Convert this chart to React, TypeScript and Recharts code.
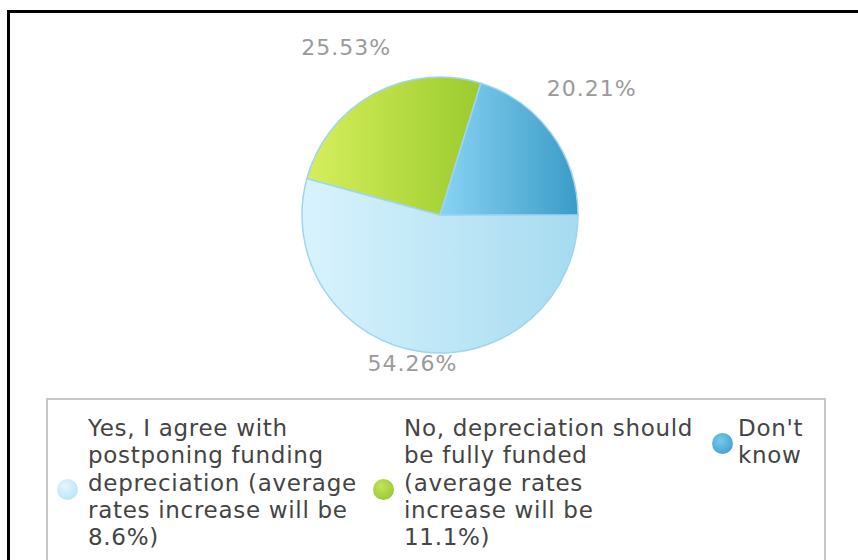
import React from "react"
import { PieChart, Pie, Cell, Legend } from "recharts"

// survey answers, in the order they appear in the legend
const categories = [
  "Yes, I agree with postponing funding depreciation (average rates increase will be 8.6%)",
  "No, depreciation should be fully funded (average rates increase will be 11.1%)",
  "Don't know",
]
const shares = [54.26, 25.53, 20.21]

// legend text broken where the original wraps it
const legendLines = [
  ["Yes, I agree with", "postponing funding", "depreciation (average", "rates increase will be", "8.6%)"],
  ["No, depreciation should", "be fully funded", "(average rates", "increase will be", "11.1%)"],
  ["Don't", "know"],
]

const gradients = [
  { id: "gYes", from: "#d8f3fd", to: "#a6dbf0" },
  { id: "gNo", from: "#d6ef5c", to: "#9bcb2e" },
  { id: "gDk", from: "#88d3f3", to: "#3b9cc8" },
]
const markerColors = [
  ["#e4f6fd", "#aedff3"],
  ["#c2e45a", "#8cc225"],
  ["#78c9ec", "#3597c6"],
]

const data = categories.map((name, i) => ({ name, value: shares[i] }))

const RAD = Math.PI / 180
const LINE_H = 27.3
const TEXT_TOP = 15
const columns = [
  { marker: 9, text: 40 },
  { marker: 325, text: 356 },
  { marker: 664, text: 690 },
]

function renderLabel(props: any) {
  const { cx, cy, midAngle, outerRadius, value } = props
  const c = Math.cos(midAngle * RAD)
  const s = Math.sin(midAngle * RAD)
  // labels sit on an ellipse a bit wider than the pie and lifted upwards
  const x = cx + (outerRadius + 53) * c - 2
  const y = cy - 21 - (outerRadius + 32) * s - 6 * c
  return (
    <text
      x={x}
      y={y}
      textAnchor="middle"
      dominantBaseline="central"
      fill="#9a9a9a"
      fontSize={22}
      letterSpacing={1}
      fontFamily="DejaVu Sans, Verdana, sans-serif"
    >
      {value.toFixed(2)}%
    </text>
  )
}

function LegendBox(props: any) {
  const payload = props.payload || []
  return (
    <div
      style={{
        position: "relative",
        width: 776,
        height: 170,
        border: "2px solid #c6c6c6",
        borderBottom: "none",
        fontFamily: "DejaVu Sans, Verdana, sans-serif",
        fontSize: 23,
        letterSpacing: 0.7,
        lineHeight: LINE_H + "px",
        color: "#444",
        textAlign: "left",
      }}
    >
      {payload.map((entry: any, i: number) => {
        const lines = legendLines[i] || [String(entry.value)]
        const centre = TEXT_TOP + 13.6 + (lines.length - 1) * (LINE_H / 2 + 1.5)
        return (
          <React.Fragment key={i}>
            <span
              style={{
                position: "absolute",
                left: columns[i].marker,
                top: centre - 10.5,
                width: 21,
                height: 21,
                borderRadius: "50%",
                background: `radial-gradient(circle at 40% 35%, ${markerColors[i][0]}, ${markerColors[i][1]})`,
              }}
            />
            <div style={{ position: "absolute", left: columns[i].text, top: TEXT_TOP, whiteSpace: "nowrap" }}>
              {lines.map((l, j) => (
                <div key={j}>{l}</div>
              ))}
            </div>
          </React.Fragment>
        )
      })}
    </div>
  )
}

export default function App() {
  return (
    <div style={{ position: "fixed", left: 0, top: 0, width: 858, height: 560, background: "#fff", overflow: "hidden" }}>
      <div
        style={{
          position: "absolute",
          left: 7,
          top: 10,
          width: 900,
          height: 600,
          borderTop: "3px solid #000",
          borderLeft: "3px solid #000",
        }}
      />
      <div style={{ position: "absolute", left: 0, top: 0 }}>
        <PieChart width={858} height={560}>
          <defs>
            {gradients.map((g) => (
              <linearGradient key={g.id} id={g.id} x1="0" y1="0" x2="1" y2="0">
                <stop offset="0%" stopColor={g.from} />
                <stop offset="100%" stopColor={g.to} />
              </linearGradient>
            ))}
          </defs>
          <Pie
            data={data}
            dataKey="value"
            nameKey="name"
            cx={435}
            cy={210}
            outerRadius={138}
            startAngle={0}
            endAngle={-360}
            stroke="#9fd5ee"
            strokeWidth={1.5}
            label={renderLabel}
            labelLine={false}
            isAnimationActive={false}
          >
            {data.map((d, i) => (
              <Cell key={d.name} fill={`url(#${gradients[i].id})`} />
            ))}
          </Pie>
          <Legend
            content={<LegendBox />}
            wrapperStyle={{ position: "absolute", left: 46, top: 398, width: 780, bottom: "auto" }}
          />
        </PieChart>
      </div>
    </div>
  )
}
